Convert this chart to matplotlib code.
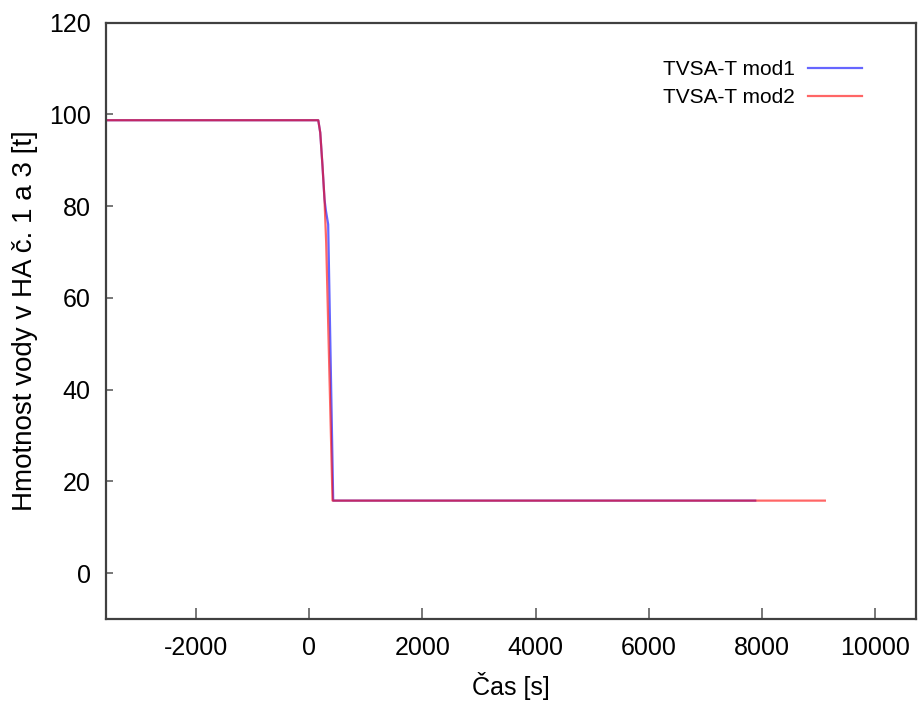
import matplotlib
matplotlib.use('Agg')
import matplotlib.pyplot as plt

# Hmotnost vody v HA č. 1 a 3 - porovnání dvou modelů TVSA-T
t_mod1 = [-3590, 160, 195, 235, 270, 295, 335, 424, 7880]
m_mod1 = [98.7, 98.7, 96.0, 88.7, 81.5, 79.0, 76.0, 15.8, 15.8]

t_mod2 = [-3590, 160, 195, 235, 270, 300, 412, 9110]
m_mod2 = [98.7, 98.7, 96.0, 88.7, 81.5, 72.0, 15.8, 15.8]

labels = ['TVSA-T mod1', 'TVSA-T mod2']
xticks = [-2000, 0, 2000, 4000, 6000, 8000, 10000]
yticks = [0, 20, 40, 60, 80, 100, 120]

plt.rcParams['font.family'] = ['Liberation Sans', 'DejaVu Sans']
plt.rcParams['axes.unicode_minus'] = False

fig = plt.figure(figsize=(9.18, 7.01), dpi=100)
ax = fig.add_axes([106 / 918, 82 / 701, 810 / 918, 596.5 / 701])

ax.plot(t_mod1, m_mod1, color='#0000ff', alpha=0.6, linewidth=1.6, label=labels[0])
ax.plot(t_mod2, m_mod2, color='#ff0000', alpha=0.6, linewidth=1.6, label=labels[1])

ax.set_xlim(-3590, 10720)
ax.set_ylim(-10, 120)
ax.set_xticks(xticks)
ax.set_yticks(yticks)
ax.tick_params(axis='x', direction='in', length=8, width=1.2, color='#606060',
               labelsize=18, pad=12)
ax.tick_params(axis='y', direction='in', length=5, width=1.2, color='#606060',
               labelsize=18, pad=11)

for side in ['left', 'right', 'top', 'bottom']:
    ax.spines[side].set_color('#404040')
    ax.spines[side].set_linewidth(1.6)

ax.set_xlabel('Čas [s]', fontsize=18, labelpad=9)
ax.set_ylabel('Hmotnost vody v HA č. 1 a 3 [t]', fontsize=20, labelpad=8)

ax.legend(loc='upper right', bbox_to_anchor=(0.933, 0.937), frameon=False,
          markerfirst=False, fontsize=15, handlelength=2.6, handletextpad=0.6,
          labelspacing=0.42, borderpad=0, borderaxespad=0)

plt.savefig('out.png', dpi=100)
plt.close(fig)
